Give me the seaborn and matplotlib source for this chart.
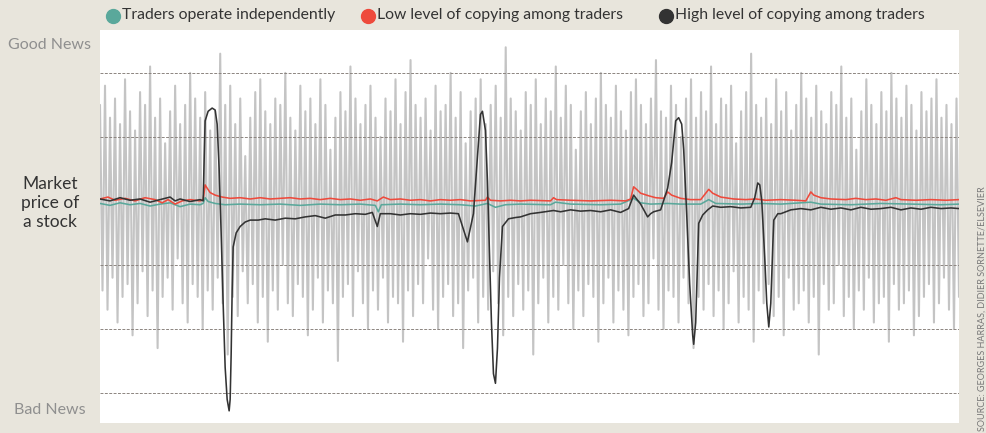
import numpy as np
import pandas as pd
import matplotlib
matplotlib.use("Agg")
import matplotlib.pyplot as plt
import seaborn as sns

# ==================== DATA ====================
# time axis runs 0..858, price in grid units (one dashed gridline = 1.0)

# grey "news" signal: alternating positive / negative swings
news_up = [
    1.5, 1.8, 1.3, 1.6, 1.2, 1.9, 1.4, 1.1, 1.7, 1.5, 2.1, 1.3, 1.6, 0.9, 1.4, 1.8, 1.2, 1.5, 2.0, 1.6,
    1.3, 1.7, 1.1, 1.4, 2.3, 1.5, 1.8, 1.2, 1.6, 0.7, 1.3, 1.7, 1.9, 1.4, 1.2, 1.6, 1.5, 2.0, 1.3, 1.1,
    1.8, 1.4, 1.6, 1.2, 1.9, 1.5, 0.8, 1.3, 1.7, 1.4, 2.1, 1.6, 1.2, 1.5, 1.8, 1.3, 1.0, 1.6, 1.4, 1.9,
    1.2, 1.7, 2.2, 1.5, 1.3, 1.6, 1.1, 1.8, 1.4, 1.5, 2.0, 1.3, 1.7, 0.9, 1.4, 1.6, 1.9, 1.2, 1.5, 1.8,
    1.3, 2.4, 1.6, 1.4, 1.1, 1.7, 1.5, 1.9, 1.2, 1.6, 1.4, 2.1, 1.3, 1.8, 1.5, 0.8, 1.4, 1.7, 1.2, 1.6,
    2.0, 1.5, 1.3, 1.8, 1.4, 1.1, 1.7, 1.9, 1.5, 1.2, 1.6, 2.2, 1.4, 1.3, 1.8, 1.5, 1.0, 1.6, 1.9, 1.3,
    1.7, 1.4, 2.1, 1.2, 1.6, 1.5, 1.8, 0.9, 1.4, 1.7, 2.3, 1.5, 1.3, 1.6, 1.2, 1.9, 1.4, 1.7, 1.1, 1.5,
    2.0, 1.6, 1.3, 1.8, 1.4, 1.2, 1.7, 1.5, 2.1, 1.3, 1.6, 0.8, 1.4, 1.9, 1.5, 1.2, 1.7, 1.4, 2.0, 1.6,
    1.3, 1.8, 1.5, 1.1, 1.7, 1.4, 1.6, 1.9, 1.3, 1.5, 1.2, 1.6,
]
news_down = [
    -1.4, -1.7, -1.2, -1.9, -1.5, -1.3, -2.1, -1.6, -1.1, -1.8, -1.4, -2.3, -1.5, -1.2, -1.7, -0.9, -1.6, -1.9, -1.3, -1.5,
    -2.0, -1.4, -1.7, -1.2, -1.6, -2.4, -1.5, -1.8, -1.1, -1.6, -1.3, -1.9, -1.5, -2.2, -1.4, -1.7, -1.0, -1.6, -1.8, -1.3,
    -1.5, -2.1, -1.7, -1.2, -1.9, -1.4, -1.6, -2.5, -1.5, -1.3, -1.8, -1.1, -1.6, -2.0, -1.4, -1.7, -1.2, -1.9, -1.5, -1.6,
    -2.2, -1.4, -1.8, -1.3, -1.6, -0.9, -1.7, -2.0, -1.5, -1.3, -1.8, -1.6, -2.3, -1.4, -1.2, -1.9, -1.5, -1.7, -1.1, -1.6,
    -2.1, -1.5, -1.8, -1.3, -1.7, -1.4, -2.4, -1.6, -1.2, -1.9, -1.5, -1.7, -1.0, -1.6, -2.0, -1.4, -1.8, -1.3, -1.5, -2.2,
    -1.6, -1.2, -1.9, -1.4, -1.7, -2.1, -1.5, -1.3, -1.8, -1.6, -0.9, -1.7, -2.0, -1.4, -1.5, -1.9, -1.2, -1.6, -2.3, -1.5,
    -1.7, -1.3, -1.8, -1.4, -2.0, -1.6, -1.1, -1.9, -1.5, -1.7, -2.2, -1.4, -1.6, -1.3, -1.8, -1.5, -2.1, -1.2, -1.7, -1.6,
    -1.4, -1.9, -1.5, -2.4, -1.3, -1.7, -1.6, -1.0, -1.8, -1.5, -2.0, -1.4, -1.7, -1.2, -1.9, -1.6, -1.5, -2.2, -1.3, -1.7,
    -1.6, -1.4, -2.1, -1.8, -1.5, -1.3, -1.9, -1.6, -1.2, -1.7, -2.0, -1.5,
]

# traders operate independently (teal)
indep_t = [0, 10, 20, 30, 40, 50, 60, 70, 80, 90, 100, 103, 105, 108, 115, 125, 140, 160, 180, 200,
           220, 240, 260, 275, 278, 281, 300, 320, 340, 360, 375, 387, 395, 405, 420, 450, 455, 470, 500, 520,
           533, 540, 550, 567, 580, 600, 608, 615, 640, 660, 680, 710, 720, 750, 780, 810, 840, 858]
indep_v = [-0.04, -0.07, -0.03, -0.06, -0.04, -0.08, -0.05, -0.03, -0.09, -0.05, -0.06, -0.04, 0.05, -0.01, -0.04, -0.06, -0.05, -0.06, -0.05, -0.07,
           -0.05, -0.06, -0.05, -0.07, -0.17, -0.06, -0.05, -0.06, -0.05, -0.06, -0.08, -0.04, -0.10, -0.06, -0.05, -0.06, -0.02, -0.05, -0.06, -0.05,
           0.04, -0.03, -0.05, -0.04, -0.05, -0.05, 0.02, -0.04, -0.05, -0.04, -0.05, -0.02, -0.05, -0.06, -0.04, -0.05, -0.06, -0.05]

# low level of copying (red)
low_t = [0, 8, 15, 25, 35, 45, 55, 62, 68, 75, 82, 90, 100, 103, 105, 107, 110, 115, 122, 130,
         140, 150, 160, 170, 180, 190, 200, 210, 220, 230, 240, 250, 260, 270, 277, 283, 290, 300, 310, 320,
         330, 340, 350, 360, 370, 385, 387, 390, 400, 410, 420, 430, 450, 453, 456, 470, 490, 510, 525, 530,
         533, 536, 540, 548, 555, 563, 567, 571, 580, 590, 600, 608, 612, 620, 633, 645, 655, 665, 680, 695,
         705, 710, 713, 720, 730, 745, 755, 765, 775, 785, 795, 800, 815, 830, 845, 858]
low_v = [0.03, 0.06, 0.01, 0.04, 0.00, 0.05, 0.02, -0.03, 0.02, -0.05, 0.00, 0.02, 0.00, 0.02, 0.25, 0.20, 0.13, 0.09, 0.06, 0.04,
         0.05, 0.03, 0.05, 0.03, 0.04, 0.05, 0.03, 0.04, 0.02, 0.04, 0.02, 0.03, 0.01, 0.03, 0.00, 0.06, 0.02, 0.03, 0.01, 0.02,
         0.00, 0.02, 0.01, 0.02, 0.00, 0.01, 0.06, 0.01, 0.00, 0.01, 0.00, 0.01, 0.00, 0.05, 0.02, 0.01, 0.00, 0.01, 0.00, 0.03,
         0.22, 0.18, 0.12, 0.08, 0.05, 0.04, 0.14, 0.09, 0.04, 0.02, 0.02, 0.18, 0.12, 0.06, 0.03, 0.02, 0.03, 0.01, 0.02, 0.01,
         0.00, 0.14, 0.09, 0.05, 0.03, 0.02, 0.04, 0.02, 0.03, 0.01, 0.05, 0.02, 0.01, 0.02, 0.01, 0.02]

# high level of copying (black)
high_t = [0, 10, 20, 30, 40, 50, 60, 70, 75, 80, 90, 100, 103,
          105, 108, 112, 115, 117, 119, 121, 123, 125, 127, 129, 130, 131, 132, 133, 136, 140, 145,
          150, 158, 165, 175, 185, 195, 205, 215, 225, 235, 245, 255, 265, 272, 277, 280, 290, 300, 310,
          320, 330, 340, 350, 358, 367, 373, 380, 382, 385, 387, 389, 391, 393, 395, 397, 399, 402, 408,
          415, 420, 430, 440, 453, 460, 470, 480, 490, 500, 510, 520, 528, 533, 540, 547, 550, 553, 560,
          567, 571, 575, 578, 581, 583, 586, 589, 592, 593, 595, 597, 598, 602, 607, 612, 620, 630, 640,
          650, 654, 657, 659, 661, 664, 666, 668, 670, 672, 673, 677, 680, 690, 700, 710, 720, 730, 740,
          750, 760, 770, 780, 790, 800, 810, 820, 830, 840, 850, 858]
high_v = [0.03, 0.00, 0.05, 0.01, 0.03, -0.02, 0.02, 0.06, 0.00, 0.03, -0.01, 0.02, 0.00,
          1.25, 1.40, 1.45, 1.42, 1.20, 0.50, -0.50, -1.60, -2.60, -3.10, -3.28, -3.10, -2.40, -1.40, -0.72, -0.50, -0.40, -0.33,
          -0.30, -0.30, -0.28, -0.30, -0.27, -0.28, -0.25, -0.23, -0.27, -0.22, -0.22, -0.20, -0.21, -0.18, -0.40, -0.20, -0.20, -0.22, -0.20,
          -0.21, -0.19, -0.20, -0.19, -0.20, -0.64, -0.20, 1.35, 1.40, 1.10, 0.30, -0.80, -1.90, -2.70, -2.85, -2.30, -1.20, -0.40, -0.28,
          -0.26, -0.25, -0.20, -0.18, -0.15, -0.17, -0.14, -0.16, -0.15, -0.17, -0.14, -0.18, -0.12, 0.09, -0.05, -0.25, -0.20, -0.17, -0.14,
          0.20, 0.60, 1.25, 1.30, 1.20, 0.80, -0.20, -1.30, -2.10, -2.24, -1.90, -0.90, -0.35, -0.22, -0.14, -0.08, -0.10, -0.09, -0.11,
          -0.10, 0.05, 0.28, 0.25, 0.00, -0.90, -1.60, -1.97, -1.60, -0.70, -0.30, -0.20, -0.20, -0.14, -0.12, -0.14, -0.10, -0.13, -0.11,
          -0.14, -0.10, -0.13, -0.12, -0.10, -0.14, -0.11, -0.13, -0.10, -0.12, -0.11, -0.12]

grid_levels = [2, 1, -1, -2, -3]

SERIES = [
    ("Traders operate independently", "#5aa89b"),
    ("Low level of copying among traders", "#ee4a3c"),
    ("High level of copying among traders", "#333333"),
]

# ==================== PLOT ====================
sns.set_style("white")
plt.rcParams["font.family"] = ["Lato", "DejaVu Sans"]

BG = "#e8e5dc"
fig = plt.figure(figsize=(9.87, 4.33), dpi=100, facecolor=BG)
ax = fig.add_axes([100 / 987, 10 / 433, 859 / 987, 393 / 433])
ax.set_facecolor("white")

# grey news zigzag
news_v = np.ravel(np.column_stack([news_up, news_down]))
news_t = np.linspace(0, 858, len(news_v))
df_news = pd.DataFrame({"t": news_t, "v": news_v})
sns.lineplot(data=df_news, x="t", y="v", ax=ax, color="#c4c4c4", lw=1.5,
             estimator=None, sort=False, zorder=1)

for lvl in grid_levels:
    ax.axhline(lvl, color="#8c8580", lw=0.7, ls=(0, (3, 1.5)), zorder=2)

for (label, color), t, v in zip(SERIES, [indep_t, low_t, high_t], [indep_v, low_v, high_v]):
    df = pd.DataFrame({"t": t, "v": v})
    sns.lineplot(data=df, x="t", y="v", ax=ax, color=color, lw=1.15,
                 estimator=None, sort=False, zorder=3)

ax.set_xlim(0, 858)
ax.set_ylim(-3.47, 2.67)
ax.set_xticks([])
ax.set_yticks([])
ax.set_xlabel("")
ax.set_ylabel("")
for s in ax.spines.values():
    s.set_visible(False)

# legend across the top
leg_x = [113, 368, 666]
for (label, color), x in zip(SERIES, leg_x):
    fig.lines.append(plt.Line2D([x / 987], [1 - 16 / 433], marker="o", markersize=10,
                                color=color, transform=fig.transFigure))
    fig.text((x + 9) / 987, 1 - 15 / 433, label, fontsize=11.3, color="#333333",
             ha="left", va="center")

# left side labels
fig.text(50 / 987, 1 - 45 / 433, "Good News", fontsize=11.5, color="#8f8f8f", ha="center", va="center")
fig.text(50 / 987, 1 - 203 / 433, "Market\nprice of\na stock", fontsize=12.5, color="#333333",
         ha="center", va="center", linespacing=1.2)
fig.text(50 / 987, 1 - 410 / 433, "Bad News", fontsize=11.5, color="#8f8f8f", ha="center", va="center")

# source
fig.text(982 / 987, 2 / 433, "SOURCE: GEORGES HARRAS, DIDIER SORNETTE/ELSEVIER", fontsize=6.5,
         color="#777777", rotation=90, ha="center", va="bottom")

fig.savefig("out.png", dpi=100, facecolor=BG)
